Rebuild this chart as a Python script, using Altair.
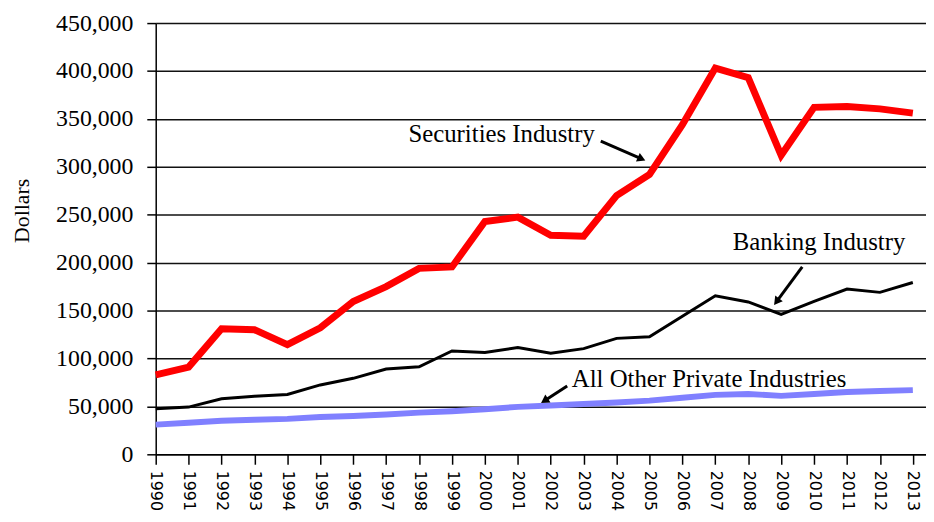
import altair as alt
import pandas as pd

years = list(range(1990, 2014))
securities = [83000, 91000, 131000, 130000, 114500, 132000, 159500, 175000, 194000, 195500,
              243000, 247500, 228500, 227500, 270000, 292000, 344000, 403000, 393000, 312000,
              362000, 363000, 360500, 356000]
banking = [47600, 49300, 57900, 60700, 62400, 72400, 79300, 89000, 91400, 107900,
           106200, 111400, 105500, 110300, 121000, 122700, 144100, 165500, 159000, 145900,
           159600, 172400, 169000, 179300]
other = [31000, 33000, 35000, 36000, 37000, 39000, 40000, 41500, 43500, 45000,
         47000, 49500, 51000, 52500, 54000, 56000, 59000, 62000, 63000, 61000,
         63000, 65000, 66000, 67000]

y_ticks = list(range(0, 450001, 50000))

ann_text = ["Securities Industry", "Banking Industry", "All Other Private Industries"]
ann_x = [2000.51, 2010.15, 2006.81]
ann_y = [334100, 221400, 78600]

arrow_x = [2003.52, 2009.64, 2002.50]
arrow_y = [326900, 195500, 71400]
arrow_x2 = [2004.76, 2008.86, 2001.81]
arrow_y2 = [308300, 159300, 55900]
arrow_angle = [24, 127, 147]

W, H = 777, 435
x_scale = alt.Scale(domain=[1990, 2013.4], nice=False, zero=False)
y_scale = alt.Scale(domain=[0, 450000], nice=False)

x_axis = alt.Axis(values=years, format="d", labelAngle=90, labelFont="DejaVu Sans",
                  labelFontSize=16, labelColor="black", tickSize=10, tickColor="black",
                  domainColor="black", domainWidth=1.5, tickWidth=1.5, labelPadding=6,
                  grid=False, title=None, labelOverlap=False, labelFlush=False,
                  labelAlign="left", labelBaseline="middle")
y_axis = alt.Axis(values=y_ticks, format=",d", labelFont="Liberation Serif",
                  labelFontSize=24, labelColor="black", tickSize=9, tickColor="black",
                  tickWidth=1.5, domainColor="black", domainWidth=1.5, labelPadding=14,
                  grid=True, gridColor="#111", gridWidth=1.5,
                  title="Dollars", titleFont="Liberation Serif", titleFontSize=22,
                  titleFontWeight="normal", titleColor="black", titleAngle=-90,
                  titleX=-135, titleY=189, titleAlign="center", titleBaseline="middle")


def series_df(vals, name):
    return pd.DataFrame({"year": years, "value": vals, "series": name})


def enc(chart, xf="year:Q", yf="value:Q", **kw):
    return chart.encode(
        x=alt.X(xf, scale=x_scale, axis=x_axis),
        y=alt.Y(yf, scale=y_scale, axis=y_axis),
        **kw,
    )


oth = enc(alt.Chart(series_df(other, "All Other Private Industries")).mark_line(
    color="#8080FF", strokeWidth=6))
bank = enc(alt.Chart(series_df(banking, "Banking Industry")).mark_line(
    color="black", strokeWidth=3))
sec = enc(alt.Chart(series_df(securities, "Securities Industry")).mark_line(
    color="#FF0000", strokeWidth=7))

ann_df = pd.DataFrame({"text": ann_text, "x": ann_x, "y": ann_y})
texts = enc(alt.Chart(ann_df).mark_text(font="Liberation Serif", fontSize=25, color="black",
                                        align="center", baseline="middle"),
            "x:Q", "y:Q", text="text:N")

arr_df = pd.DataFrame({"x": arrow_x, "y": arrow_y, "x2": arrow_x2, "y2": arrow_y2,
                       "angle": arrow_angle})
shafts = enc(alt.Chart(arr_df).mark_rule(color="black", strokeWidth=3),
             "x:Q", "y:Q", x2="x2:Q", y2="y2:Q")
heads = enc(alt.Chart(arr_df).mark_point(shape="triangle-right", filled=True, color="black",
                                         opacity=1, size=90),
            "x2:Q", "y2:Q", angle=alt.Angle("angle:Q", scale=None))

chart = alt.layer(oth, bank, sec, shafts, heads, texts).properties(
    width=W, height=H,
    autosize=alt.AutoSizeParams(type="none"),
    padding={"left": 149, "top": 13, "right": 0, "bottom": 58},
    background="white",
).configure_view(stroke=None)

chart.save("out.html", embed_options={"renderer": "svg", "actions": False})
